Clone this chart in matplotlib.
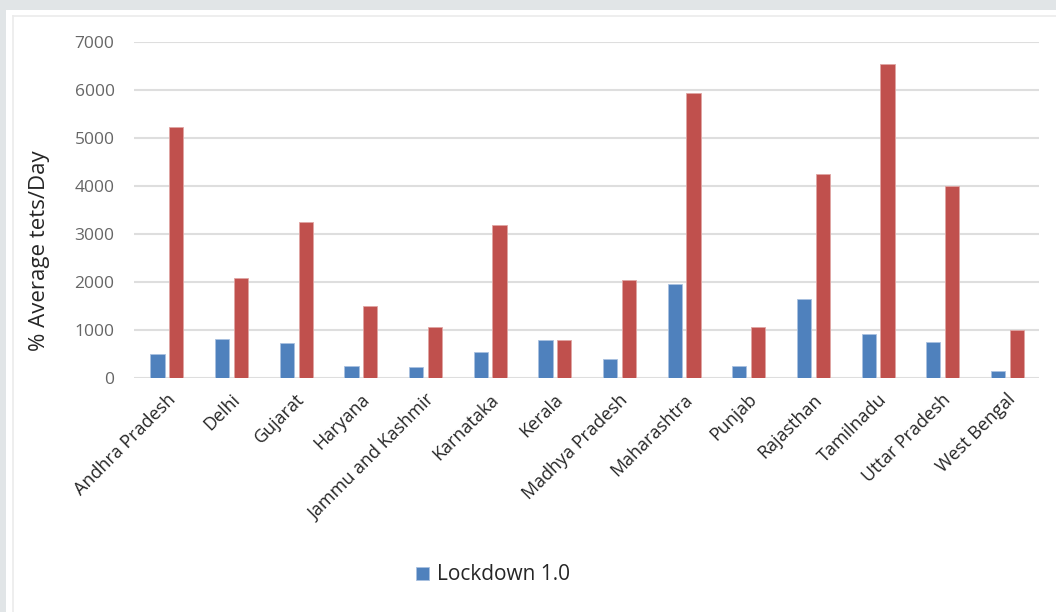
import numpy as np
import matplotlib.pyplot as plt
from matplotlib.patches import Rectangle
from matplotlib.lines import Line2D

# DATA------------------------------------------------------------------------------------------------------------------
states = ["Andhra Pradesh", "Delhi", "Gujarat", "Haryana", "Jammu and Kashmir", "Karnataka", "Kerala",
          "Madhya Pradesh", "Maharashtra", "Punjab", "Rajasthan", "Tamilnadu", "Uttar Pradesh", "West Bengal"]
lockdown_1 = [500, 820, 720, 260, 220, 540, 790, 390, 1950, 240, 1650, 920, 760, 140]
lockdown_2 = [5220, 2090, 3250, 1490, 1060, 3190, 800, 2040, 5930, 1070, 4250, 6540, 3990, 1000]
yticks = [0, 1000, 2000, 3000, 4000, 5000, 6000, 7000]

plt.rcParams['font.family'] = ['Open Sans', 'DejaVu Sans']

# FIGURE----------------------------------------------------------------------------------------------------------------
fig = plt.figure(figsize=(10.56, 6.12), dpi=100)
fig.patch.set_facecolor('#e1e5e7')

# white panel with a faint inner frame
fig.add_artist(Rectangle((6 / 1056, 0), 1, 1 - 10 / 612, transform=fig.transFigure,
                         facecolor='white', edgecolor='none', zorder=0))
fig.add_artist(Line2D([13 / 1056, 1], [1 - 16 / 612, 1 - 16 / 612], transform=fig.transFigure,
                      color='#ebebeb', lw=1.2))
fig.add_artist(Line2D([13 / 1056, 13 / 1056], [0, 1 - 16 / 612], transform=fig.transFigure,
                      color='#ebebeb', lw=1.2))

ax = fig.add_axes([134 / 1056, 1 - 378 / 612, (1039 - 134) / 1056, (378 - 42) / 612])
ax.set_facecolor('none')

x = np.arange(len(states))
w = 0.22
ax.bar(x - 0.135, lockdown_1, width=w, color='#4f81bd', edgecolor='#a9c1e0', linewidth=0.6,
       label='Lockdown 1.0', zorder=3)
ax.bar(x + 0.155, lockdown_2, width=w, color='#c0504d', edgecolor='#e0a5a3', linewidth=0.6,
       label='_nolegend_', zorder=3)

ax.set_xlim(-0.5, len(states) - 0.5)
ax.set_ylim(0, 7000)
ax.set_yticks(yticks)
ax.set_yticklabels([str(v) for v in yticks], fontsize=12.5, color='#666666')
ax.grid(axis='y', color='#dedede', linewidth=1.5, zorder=0)
ax.set_axisbelow(True)

for s in ax.spines.values():
    s.set_visible(False)
ax.tick_params(axis='both', length=0)
ax.tick_params(axis='y', pad=14)

ax.set_xticks(x)
ax.set_xticklabels(states, rotation=45, ha='right', va='top', rotation_mode='anchor',
                   fontsize=13, color='#262626')
ax.tick_params(axis='x', pad=9)

ax.set_ylabel('% Average tets/Day', fontsize=16, color='#262626')
ax.yaxis.set_label_coords((50 - 134) / 905, (378 - 251) / 336)

fig.legend(loc='center', bbox_to_anchor=(493 / 1056, 1 - 575 / 612), frameon=False,
           fontsize=15, handlelength=0.6, handleheight=0.6, handletextpad=0.4,
           labelcolor='#262626')

plt.savefig('out.png', dpi=100, facecolor=fig.get_facecolor())
